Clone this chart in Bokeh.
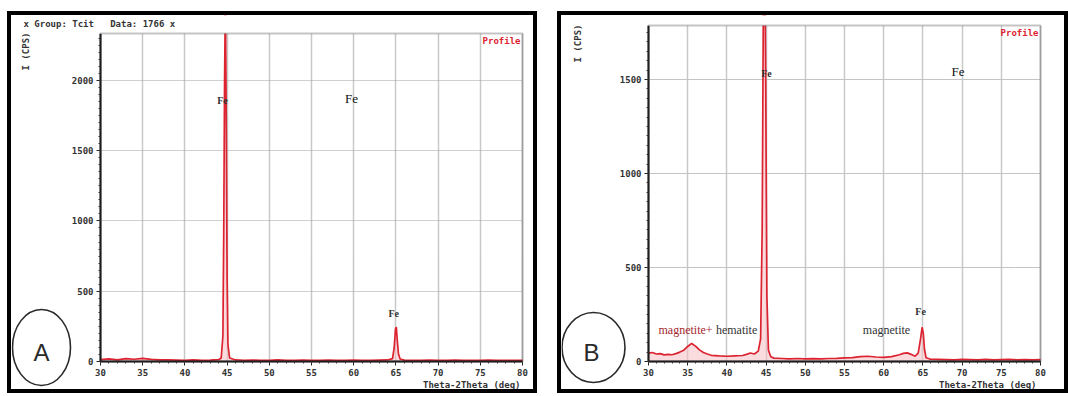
from bokeh.plotting import figure
from bokeh.models import Range1d, FixedTicker, Label, BoxAnnotation, Grid
from bokeh.layouts import row
from bokeh.embed import file_html
from bokeh.resources import INLINE
import math

# ---------------- data ----------------
two_theta_a = [30, 31, 32, 33, 34, 35, 36, 37, 38, 39, 40, 41, 42, 43, 44,
               44.3, 44.5, 44.6, 44.7, 44.8, 44.9, 45.0, 45.1, 45.3,
               46, 47, 48, 49, 50, 51, 52, 53, 54, 55, 56, 57, 58, 59, 60,
               61, 62, 63, 64, 64.6, 64.8, 64.95, 65.05, 65.15, 65.3, 65.5,
               66, 67, 68, 69, 70, 71, 72, 73, 74, 75, 76, 77, 78, 79, 80]
counts_a = [14, 18, 12, 20, 16, 22, 15, 12, 11, 10, 9, 11, 9, 10, 13,
            25, 180, 900, 2000, 2600, 1700, 600, 120, 25,
            11, 9, 10, 8, 9, 11, 8, 9, 10, 8, 9, 10, 9, 8, 10,
            9, 8, 10, 11, 20, 100, 230, 245, 160, 55, 18,
            10, 9, 8, 10, 9, 8, 10, 9, 8, 9, 10, 8, 9, 8, 9]

two_theta_b = [30, 30.5, 31, 31.5, 32, 32.5, 33, 33.5, 34, 34.5, 35, 35.5, 36, 36.5,
               37, 37.5, 38, 39, 40, 41, 42, 42.5, 43, 43.5, 44, 44.3, 44.5,
               44.65, 44.8, 44.95, 45.1, 45.3, 45.6, 46, 47, 48, 49, 50, 51, 52,
               53, 54, 55, 56, 57, 58, 59, 60, 61, 62, 62.5, 63, 63.5, 64, 64.4,
               64.7, 64.9, 65.05, 65.2, 65.4, 66, 67, 68, 69, 70, 71, 72, 73, 74,
               75, 76, 77, 78, 79, 80]
counts_b = [45, 48, 40, 42, 35, 38, 36, 42, 50, 60, 80, 96, 82, 62,
            48, 40, 33, 30, 28, 30, 32, 38, 45, 40, 55, 120, 700,
            1900, 2300, 1500, 350, 60, 25, 18, 16, 14, 16, 14, 15, 14,
            16, 17, 19, 21, 26, 28, 24, 22, 26, 36, 43, 46, 38, 28, 45,
            120, 182, 150, 65, 20, 12, 11, 10, 9, 11, 10, 9, 11, 9,
            10, 11, 9, 10, 9, 10]

x_ticks = [30, 35, 40, 45, 50, 55, 60, 65, 70, 75, 80]
y_ticks_a = [0, 500, 1000, 1500, 2000]
y_ticks_b = [0, 500, 1000, 1500]

RED = "#dc2330"
MONO = "DejaVu Sans Mono"
SERIF = "Liberation Serif"
BORDER = 4
H = 382
TOP = 11
LEFT = 7
GAP = 20
WA, WB = 530, 511


def make_panel(x, y, yticks, ymax, host_x, W, frame, letter, circle, header,
               ylab_pos, profile_pos, xlab_pos, hgrid_dash, hgrid_color):
    fl, fr, ft, fb = frame
    cl, ct = host_x + BORDER, TOP + BORDER
    cr, cb = cl + W, ct + H
    xs = (fr - fl) / 50.0
    ys = (fb - ft) / float(ymax)
    x_rng = Range1d(30 - (fl - cl) / xs, 80 + (cr - fr) / xs)
    y_rng = Range1d(-(cb - fb) / ys, ymax + (ft - ct) / ys)

    p = figure(width=W, height=H, x_range=x_rng, y_range=y_rng,
               output_backend="svg", toolbar_location=None, min_border=0,
               background_fill_color="white", border_fill_color="white",
               styles={"border": "%dpx solid black" % BORDER})
    p.outline_line_color = None

    minor_x = list(range(30, 81))
    minor_y = list(range(0, int(ymax) + 1, 50))
    p.xaxis.ticker = FixedTicker(ticks=x_ticks, minor_ticks=minor_x)
    p.yaxis.ticker = FixedTicker(ticks=yticks, minor_ticks=minor_y)
    p.xaxis.fixed_location = 0
    p.yaxis.fixed_location = 30
    p.xaxis.bounds = (30, 80)
    p.yaxis.bounds = (0, ymax)
    for ax in (p.xaxis[0], p.yaxis[0]):
        ax.axis_line_color = "#111"
        ax.axis_line_width = 2
        ax.major_tick_line_color = "#222"
        ax.minor_tick_line_color = "#333"
        ax.major_tick_out = 4
        ax.major_tick_in = 0
        ax.minor_tick_out = 2
        ax.minor_tick_in = 0
        ax.major_label_text_font = MONO
        ax.major_label_text_font_style = "bold"
        ax.major_label_text_font_size = "9px"
        ax.major_label_text_color = "#333"
        ax.major_label_standoff = 3

    p.xgrid.grid_line_color = "#c8c8c8"
    p.xgrid.grid_line_width = 1.5
    p.ygrid.grid_line_color = hgrid_color
    p.ygrid.grid_line_width = 1.2
    p.ygrid.grid_line_dash = hgrid_dash
    p.xgrid.bounds = (30, 80)
    p.ygrid.bounds = (0, ymax)
    if "cross_bounds" in Grid.properties():
        p.xgrid.cross_bounds = (0, ymax)
        p.ygrid.cross_bounds = (30, 80)

    p.varea(x=x, y1=0, y2=y, fill_color="#f6c0c4", fill_alpha=0.55)
    p.line(x, y, line_color=RED, line_width=1.7)

    # white mask hiding the off-scale part of the tallest peak
    p.add_layout(BoxAnnotation(bottom=ymax, fill_color="white", fill_alpha=1,
                               line_alpha=0))
    # plot-area frame
    p.add_layout(BoxAnnotation(left=30, right=80, bottom=0, top=ymax, fill_alpha=0,
                               line_color="#3a3a3a", line_width=2))

    def scr(px, py):
        return px - cl, cb - py

    def lab(text, lx, ly, units="page", **kw):
        opts = dict(text_font=MONO, text_font_style="bold", text_font_size="9px",
                    text_color="#333", text_baseline="middle", text_align="left")
        opts.update(kw)
        if units == "page":
            sx, sy = scr(lx, ly)
            p.add_layout(Label(x=sx, y=sy, x_units="screen", y_units="screen",
                               text=text, **opts))
        else:
            p.add_layout(Label(x=lx, y=ly, text=text, **opts))

    if header:
        lab(header[0], header[1], header[2])
    lab("I (CPS)", ylab_pos[0], ylab_pos[1], angle=math.pi / 2, text_align="center")
    lab("Profile", profile_pos[0], profile_pos[1], text_align="right", text_color=RED)
    lab("Theta-2Theta (deg)", xlab_pos[0], xlab_pos[1], text_align="right")

    ccx, ccy, cw, ch, lx, ly = circle
    p.ellipse(x=[30 + (ccx - fl) / xs], y=[(fb - ccy) / ys], width=cw, height=ch,
              width_units="screen", height_units="screen",
              fill_color=None, line_color="#2a2a2a", line_width=1.6)
    lab(letter, lx, ly, text_font="Liberation Sans", text_font_style="normal",
        text_font_size="24px", text_color="#2a2a2a", text_align="center")
    return p, lab


pa, laba = make_panel(two_theta_a, counts_a, y_ticks_a, 2334, LEFT, WA,
                      (100, 522, 33, 361), "A", (41, 347, 58, 76, 41, 352),
                      ("x Group: Tcit\u00a0\u00a0 Data: 1766 x", 23, 23),
                      (25, 51), (520, 40), (520, 384), "1 1", "#a0a0a0")
laba("Fe", 44.45, 1857, units="data", text_font=SERIF, text_font_size="10px",
     text_align="center")
laba("Fe", 59.74, 1875, units="data", text_font=SERIF, text_font_style="normal",
     text_font_size="13px", text_color="#111", text_align="center")
laba("Fe", 64.75, 340, units="data", text_font=SERIF, text_font_size="10px",
     text_align="center")

pb, labb = make_panel(two_theta_b, counts_b, y_ticks_b, 1787, LEFT + WA + GAP, WB,
                      (648, 1040, 25, 361), "B", (593, 347, 63, 70, 591, 352), None,
                      (577, 43), (1038, 32), (1036, 384), "1 0", "#c4c4c4")
labb("Fe", 45.05, 1532, units="data", text_font=SERIF, text_font_size="10px",
     text_align="center")
labb("Fe", 69.48, 1540, units="data", text_font=SERIF, text_font_style="normal",
     text_font_size="13px", text_color="#111", text_align="center")
labb("Fe", 64.7, 266, units="data", text_font=SERIF, text_font_size="10px",
     text_align="center")
labb("magnetite+", 31.28, 165, units="data", text_font=SERIF, text_font_style="normal",
     text_font_size="12px", text_color="#a4262c")
labb("hematite", 38.6, 165, units="data", text_font=SERIF, text_font_style="normal",
     text_font_size="12px", text_color="#333")
labb("magnetite", 60.36, 165, units="data", text_font=SERIF, text_font_style="normal",
     text_font_size="12px", text_color="#333", text_align="center")

layout = row(pa, pb, spacing=GAP, margin=(TOP, 0, 0, LEFT))
open("out.html", "w").write(file_html(layout, INLINE))
